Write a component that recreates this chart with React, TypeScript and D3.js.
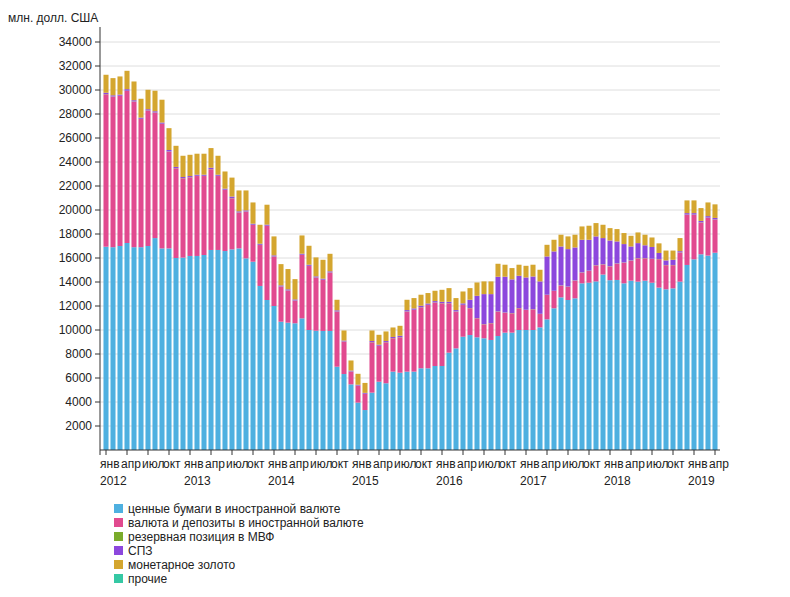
import React from "react";
import * as d3 from "d3";

// Months Jan 2012 .. Apr 2019
const years = [2012, 2013, 2014, 2015, 2016, 2017, 2018, 2019];
const monthNames = ["янв", "фев", "мар", "апр", "май", "июн", "июл", "авг", "сен", "окт", "ноя", "дек"];
const tickMonthLabels = ["янв", "апр", "июл", "окт"];
const yTicks = [2000, 4000, 6000, 8000, 10000, 12000, 14000, 16000, 18000, 20000, 22000, 24000, 26000, 28000, 30000, 32000, 34000];

const seriesNames = [
  "ценные бумаги в иностранной валюте",
  "валюта и депозиты в иностранной валюте",
  "резервная позиция в МВФ",
  "СПЗ",
  "монетарное золото",
  "прочие",
];
const seriesColors = ["#4eb0e0", "#e14a8f", "#7aab2b", "#8c47dd", "#d4a62f", "#35c8a4"];

const securities = [
  16940, 16900, 17000, 17250, 16900, 16900, 17000, 17660, 16800, 16800, 16000, 16030,
  16170, 16170, 16250, 16670, 16670, 16580, 16720, 16800, 15970, 15690, 13670, 12500,
  12000, 10690, 10610, 10560, 10970, 10000, 9940, 9920, 9920, 6940, 6330, 5470,
  3950, 3330, 4780, 5690, 5560, 6530, 6440, 6530, 6530, 6810, 6810, 7000,
  7000, 8110, 8470, 9440, 9580, 9390, 9310, 9170, 9500, 9780, 9780, 10000,
  10000, 10000, 10220, 10890, 11810, 12720, 12500, 12640, 13890, 13940, 14050, 14620,
  14150, 14170, 13890, 14110, 14030, 14110, 13940, 13530, 13390, 13470, 14030, 15420,
  15890, 16310, 16200, 16440,
];
const currencyDeposits = [
  12700, 12540, 12500, 12670, 12130, 10680, 11280, 10450, 10370, 8060, 7470, 6610,
  6550, 6660, 6580, 6720, 6160, 5090, 4250, 2980, 3890, 3060, 3410, 6170,
  4110, 2920, 2670, 1880, 5280, 5330, 4420, 4250, 4860, 4590, 2700, 1060,
  1400, 1340, 4190, 2980, 3410, 2780, 2950, 5000, 5140, 5080, 5270, 5280,
  5220, 4110, 3060, 2640, 2230, 1580, 1160, 1390, 2030, 1660, 1610, 1810,
  1670, 1720, 1110, 2030, 1440, 980, 1100, 1470, 890, 990, 1330, 840,
  1150, 1360, 1720, 1670, 1940, 1860, 1980, 2370, 2010, 1930, 2420, 4180,
  3710, 2640, 3150, 2760,
];
const imfPosition = [
  20, 20, 20, 20, 20, 20, 20, 20, 20, 20, 20, 20,
  20, 20, 20, 20, 20, 20, 20, 20, 20, 20, 20, 20,
  20, 20, 20, 20, 20, 20, 20, 20, 20, 20, 20, 20,
  20, 20, 20, 20, 20, 20, 20, 20, 20, 20, 20, 20,
  20, 20, 20, 20, 20, 20, 20, 20, 20, 20, 20, 20,
  20, 20, 20, 20, 20, 20, 20, 20, 20, 20, 20, 20,
  20, 20, 20, 20, 20, 20, 20, 20, 20, 20, 20, 20,
  20, 20, 20, 20,
];
const sdr = [
  110, 100, 100, 130, 100, 100, 100, 100, 100, 120, 100, 90,
  90, 90, 90, 110, 90, 90, 130, 90, 90, 90, 90, 90,
  90, 90, 90, 90, 90, 90, 90, 90, 90, 90, 70, 70,
  70, 70, 90, 90, 90, 90, 110, 110, 110, 110, 110, 110,
  110, 110, 110, 120, 690, 1860, 2500, 2410, 2890, 2980, 2810, 2690,
  2690, 2720, 2700, 3190, 3280, 3240, 3120, 2750, 2720, 2570, 2400, 2180,
  2140, 1830, 1530, 1160, 1250, 1070, 980, 500, 380, 430, 100, 120,
  120, 120, 120, 120,
];
const gold = [
  1500, 1430, 1510, 1530, 1560, 1570, 1620, 1710, 1900, 1820, 1760, 1770,
  1770, 1750, 1750, 1640, 1580, 1430, 1580, 1740, 1660, 1770, 1580, 1660,
  1580, 1770, 1690, 1690, 1520, 1580, 1580, 1570, 1460, 880, 840, 840,
  910, 830, 880, 820, 800, 790, 830, 860, 860, 920, 870, 860,
  1000, 1140, 1000, 990, 970, 1110, 1060, 1060, 1080, 1000, 940, 920,
  970, 980, 970, 970, 970, 980, 1060, 1060, 1110, 1170, 1110, 1110,
  1030, 1030, 920, 890, 890, 880, 790, 800, 820, 770, 1090, 1060,
  1060, 1070, 1140, 1130,
];
const other = [
  0, 0, 0, 0, 0, 0, 0, 0, 0, 0, 0, 0,
  0, 0, 0, 0, 0, 0, 0, 0, 0, 0, 0, 0,
  0, 0, 0, 0, 0, 0, 0, 0, 0, 0, 0, 0,
  0, 0, 0, 0, 0, 0, 0, 0, 0, 0, 0, 0,
  0, 0, 0, 0, 0, 0, 0, 0, 0, 0, 0, 0,
  0, 0, 0, 0, 0, 0, 0, 0, 0, 0, 0, 0,
  0, 0, 0, 0, 0, 0, 0, 0, 0, 0, 0, 0,
  0, 0, 0, 0,
];

const seriesValues = [securities, currencyDeposits, imfPosition, sdr, gold, other];
const keys = ["s0", "s1", "s2", "s3", "s4", "s5"];

const nMonths = securities.length;
const months = d3.range(nMonths).map((i) => ({
  idx: i,
  year: years[0] + Math.floor(i / 12),
  month: i % 12,
}));

const rows = months.map((m) => {
  const r: any = { idx: m.idx };
  keys.forEach((k, j) => (r[k] = seriesValues[j][m.idx]));
  return r;
});

const FONT = "'Liberation Sans', Arial, Helvetica, sans-serif";

export default function App() {
  const width = 790;
  const height = 597;
  const plotLeft = 100;
  const plotRight = 720;
  const x = d3
    .scaleBand<number>()
    .domain(months.map((m) => m.idx))
    .range([102.5, 102.5 + 7 * nMonths])
    .paddingInner(0.28)
    .paddingOuter(0.14);
  const y = d3.scaleLinear().domain([0, 34000]).range([450, 42]);
  const stack = d3.stack<any>().keys(keys);
  const layers = stack(rows);
  const center = (i: number) => (x(i) as number) + x.bandwidth() / 2;

  const tickMonths = months.filter((m) => m.month % 3 === 0);

  return (
    <svg
      width={width}
      height={height}
      style={{ position: "absolute", left: 0, top: 0, background: "#fff" }}
      fontFamily={FONT}
    >
      <rect x={0} y={0} width={width} height={height} fill="#fff" />
      {/* grid */}
      {yTicks.map((t) => (
        <line key={"g" + t} x1={plotLeft} x2={plotRight} y1={y(t)} y2={y(t)} stroke="#dedede" strokeWidth={1} />
      ))}
      {/* bars */}
      {layers.map((layer, li) => (
        <g key={keys[li]} fill={seriesColors[li]}>
          {layer.map((d, i) => {
            const h = y(d[0]) - y(d[1]);
            if (h <= 0) return null;
            return <rect key={i} x={x(i)} y={y(d[1])} width={x.bandwidth()} height={h} />;
          })}
        </g>
      ))}
      {/* y axis */}
      <line x1={plotLeft} x2={plotLeft} y1={27} y2={455} stroke="#333" strokeWidth={1} />
      {yTicks.map((t) => (
        <g key={"y" + t}>
          <line x1={plotLeft - 5} x2={plotLeft} y1={y(t)} y2={y(t)} stroke="#333" />
          <text x={plotLeft - 8} y={y(t)} dy="0.35em" textAnchor="end" fontSize={12} fill="#222">
            {t}
          </text>
        </g>
      ))}
      <text x={8} y={22} fontSize={12} fill="#222">
        млн. долл. США
      </text>
      {/* x axis */}
      <line x1={plotLeft} x2={plotRight} y1={450} y2={450} stroke="#333" strokeWidth={1} />
      {tickMonths.map((m) => (
        <g key={"x" + m.idx}>
          <line x1={center(m.idx)} x2={center(m.idx)} y1={450} y2={455} stroke="#333" />
          <text x={center(m.idx) - 6} y={468} fontSize={12} fill="#222">
            {tickMonthLabels[m.month / 3]}
          </text>
          {m.month === 0 && (
            <text x={center(m.idx) - 6} y={485} fontSize={12} fill="#222">
              {m.year}
            </text>
          )}
        </g>
      ))}
      {/* legend */}
      {seriesNames.map((name, i) => (
        <g key={name}>
          <rect x={114} y={504 + 14 * i} width={9} height={9} fill={seriesColors[i]} />
          <text x={128} y={513 + 14 * i} fontSize={12} fill="#222">
            {name}
          </text>
        </g>
      ))}
    </svg>
  );
}
